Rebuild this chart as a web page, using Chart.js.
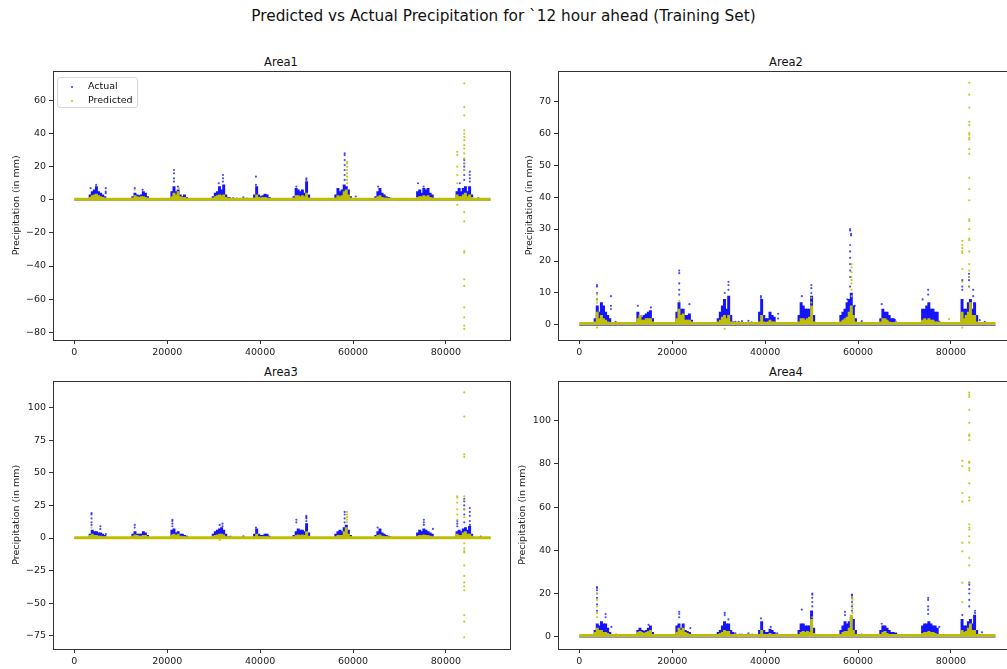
<!DOCTYPE html>
<html>
<head>
<meta charset="utf-8">
<script src="https://cdn.jsdelivr.net/npm/chart.js@4.4.0/dist/chart.umd.min.js"></script>
<style>
  body { margin: 0; background: #fff; width: 1007px; height: 669px; overflow: hidden; position: relative; font-family: "DejaVu Sans", sans-serif; color: #111; }
  .panel { position: absolute; }
  .sup { position: absolute; left: 0; width: 1007px; top: 6px; text-align: center; font-size: 15.3px; line-height: 20px; }
  .sub { position: absolute; width: 200px; text-align: center; font-size: 11.5px; line-height: 14px; }
  .legend { position: absolute; left: 57px; top: 77px; width: 79px; height: 29px; border: 1px solid #d8d8d8; border-radius: 3px; background: rgba(255,255,255,0.8); font-size: 9.5px; }
  .legend div { position: absolute; left: 30px; line-height: 12px; }
  .legend span { position: absolute; width: 2px; height: 2px; border-radius: 1px; left: 13px; }
</style>
</head>
<body>
<div class="sup">Predicted vs Actual Precipitation for `12 hour ahead (Training Set)</div>
<div class="sub" style="left:181px;top:55px">Area1</div>
<div class="sub" style="left:686px;top:55px">Area2</div>
<div class="sub" style="left:181px;top:365px">Area3</div>
<div class="sub" style="left:686px;top:365px">Area4</div>

<div class="panel" style="left:0;top:62px"><canvas id="c1" width="515" height="298"></canvas></div>
<div class="panel" style="left:505px;top:62px"><canvas id="c2" width="515" height="298"></canvas></div>
<div class="panel" style="left:0;top:372px"><canvas id="c3" width="515" height="297"></canvas></div>
<div class="panel" style="left:505px;top:372px"><canvas id="c4" width="515" height="297"></canvas></div>

<div class="legend">
  <span style="top:8px;background:#3030ff"></span><div style="top:2px">Actual</div>
  <span style="top:22px;background:#bfbf00"></span><div style="top:16px">Predicted</div>
</div>

<script>
// tijdstap-bins (x) van de dichte clusters
const binX = [
  3400, 3850, 4300, 4750, 5200, 5650, 6100, 6550,
  12600, 13050, 13500, 13950, 14400, 14850, 15300, 15750,
  21000, 21450, 21900, 22350, 22800, 23250, 23700, 24150,
  29900, 30350, 30800, 31250, 31700, 32150, 32600, 33050,
  38800, 39250, 39700, 40150, 40600, 41050, 41500, 41950,
  47300, 47750, 48200, 48650, 49100, 49550, 50000, 50450,
  56300, 56750, 57200, 57650, 58100, 58550, 59000, 59450,
  64900, 65350, 65800, 66250, 66700, 67150, 67600, 68050,
  73900, 74350, 74800, 75250, 75700, 76150, 76600, 77050,
  82400, 82850, 83300, 83750, 84200, 84650, 85100, 85550
];

const baselineX = [0, 89600];
const xTicks = [0, 20000, 40000, 60000, 80000];
const xRange = [-4600, 93800];

// Area1
const area1ActualTop = [3,5,6,8,5,4,3,2, 2,4,3,2.5,3,5,4,2, 5,8,5,6,3,2,3,1.5, 2,4,5,8,6,9,3,1.5, 3,8,3,2,2.5,3.5,3,1.5,
  2,7,6,5,6,4,11,3, 3,7,5,6,9,8,6,2, 2,5,7,4,3,2,1.5,1, 5,6,4,7,6,7,4,3, 5,7,5,7,8,5,8,3];
const area1PredTop = [1.5,2.5,3,3.5,2.5,2,1.5,1, 1,2.5,2,1.5,2,2,1.5,1, 2,4,3,5,2,1.5,1.5,1, 1,2,2.5,3,2.5,3,1.5,1, 1,3,1.5,1,1.5,1.5,1,0.5,
  1,2.5,2.5,2,2.5,2,4,1, 1,2.5,2,2.5,5,6,3,1, 1,2,2.5,1.5,1,1,0.5,0.5, 1.5,2,2,2.5,2,2.5,1.5,1, 3,2,2,3,4,2,3,1.5];
const area1ActualPeaks = [
  [3500,7],[4700,9],[6750,7,5,4],
  [13000,7],[14700,6],
  [21450,18,16,13,11],[22300,8],
  [31100,10],[32000,15,13,11],
  [33500,1],[34200,1],[35000,0.8],[36400,1.5],[37200,0.8],
  [39100,14,9],
  [47800,8],[49950,13,12],
  [58200,28,27,24,21,18,15,12],[60600,2],
  [65400,8],
  [74000,10],[75200,8],
  [83000,10],[83950,24,22,20,18,15,12],[85150,17,15,13,11],
  [87000,1],[88000,0.5]
];
const area1PredPeaks = [
  [13000,6],[22500,7],
  [58700,23,22,20,18,16,14,12,10],
  [82450,29,27,20,15,10,-3],
  [83950,70.4,56,51,42,40,38,36,33,31,28,25,22,18,-7.5,-13,-31,-32,-48,-52,-65,-71,-76,-78]
];
const area1YTicks = [-80, -60, -40, -20, 0, 20, 40, 60];
const area1YRange = [-84.7, 78];
const area1Baseline = [0, 0];
const area1PredBaseline = [0.3, 0.3];

// Area2
const area2ActualTop = [2,6,4,7,6,4,3,2, 4,3,2.5,3,3.5,4,4.5,2, 4,7,5,5,3,3,3.5,1.5, 2,4,6,8,5,9,3,1, 4,8,3,2,2,4,3,2.5,
  3,7,6,5,5,5,9,3, 3,4,5,7,8,10,6,2, 2,5,4,4,3,2,2,1, 5,5,6,7,5,5,4,4, 8,5,5,7,8,5,7,3];
const area2PredTop = [1,4,2,3,2,1.5,1,0.5, 2,3,1.5,1.5,2,2,2,1, 2,5,3,3.5,1.5,1.5,1.5,1, 1,1.5,2.5,3,2,3,1,0.5, 1,3,1,0.5,1,1.5,1,1,
  1,2,2,1.5,2,2.5,6,1, 1,1.5,2,2.5,4,6,3,1, 1,2,2,1.5,1,0.5,0.5,0.5, 1.5,2,1.5,2,1.5,1.5,1,1, 4,2,3,4,7,3,3,1];
const area2ActualPeaks = [
  [3800,12.5,12,10,8],[6800,9,6,5],[7800,1],
  [12600,6],[15400,5.5],
  [21500,17,16.2,13,11,9.5],[23700,6.5],
  [28500,0.5],[29300,0.5],
  [31300,10],[32100,13.5,12.5,11],
  [33600,1],[34300,1],[35000,1.2],[36400,1.3],[37100,0.8],
  [39100,9,8.5],[42800,3.5,2],
  [47900,9],[49950,12.5,11.5,10],
  [57700,8],[58300,30,29.5,25,23,21,19,17,15,12],[58500,28.5,28],[59300,6],[60800,1.2],
  [65100,6.5],[68000,1.5],
  [73900,8],[75100,11,9.5],[77500,1],
  [82450,14,12,11],[83900,16,15,14,12],[84800,11,9],[86200,1.5],[87300,1]
];
const area2PredPeaks = [
  [3800,9.5,8,7,-0.8],
  [21500,7.5],
  [31300,-1.2],
  [49950,8.5,7],
  [58600,19,18,16.5,15,14,13,11,9],
  [79600,1.8],
  [82450,26.3,25,24,23,22.5,17.5,13.5,-0.8],
  [83950,75.7,72,68,63.5,62.5,60,59.5,58.5,58,55,53.5,46,42.5,39,33,32.5,30,27,26.5,23,19,17,15,12]
];
const area2YTicks = [0, 10, 20, 30, 40, 50, 60, 70];
const area2YRange = [-4.7, 79.5];
const area2Baseline = [0, 0];
const area2PredBaseline = [0.45, 0.45];

// Area3
const area3ActualTop = [3,6,5,5,4,4,3,2, 3,5,3,3,3,5,4,2, 6,7,4,5,3,3,2,1.5, 3,5,6,7,8,6,3,1, 3,7,3,2,2,3,3,1.5,
  2,5,7,6,6,5,11,4, 3,5,6,5,8,10,6,2, 2,5,7,4,3,2,1.5,1, 4,6,5,7,6,5,4,3, 5,6,5,7,8,6,9,3];
const area3PredTop = [2,3,2,2,1.5,1.5,1,1, 1.5,2.5,2,1.5,1.5,2,2,1, 2.5,3,2,3,1.5,1,1,0.5, 1.5,2,2.5,3,3,2.5,1,0.5, 1,3,1,1,1,1,1,0.5,
  1,2,2.5,2,2.5,2,5,1.5, 1,2,2,2,5,8,3,1, 1,2,2.5,1.5,1,1,0.5,0.5, 1.5,2,2,2.5,2,2,1.5,1, 3,2,2,4,5,3,3,1.5];
const area3ActualPeaks = [
  [3700,19,18,15,12,10],[5600,9,7],[6800,3],
  [13000,10,8],
  [21100,14,13,11,9],
  [31300,10],[31900,11,9],
  [33600,1],[36400,1.2],
  [39100,8],
  [47800,14,12],[49950,17,16,15,13],
  [58200,20,18,15,12],
  [65300,8],
  [75250,14,12,10],[77200,7],
  [82450,13,11,9],[83950,30,28,25,22,18,12],[85150,23,20,17,13,10],
  [87500,1]
];
const area3PredPeaks = [
  [3700,8],
  [31300,-1.5],
  [58700,20,18,16,14,12],
  [82450,32,31,27,22,18,14],
  [83950,111.5,93,64,62,32,29,22,16,-4,-8,-10,-11,-21,-29,-34,-37,-40,-59,-64,-76]
];
const area3YTicks = [-75, -50, -25, 0, 25, 50, 75, 100];
const area3YRange = [-85, 120.5];
const area3Baseline = [0, 0];
const area3PredBaseline = [0.3, 0.3];

// Area4
const area4ActualTop = [3,6,5,7,6,6,4,2, 3,4,3,2.5,3,4,5,2, 5,6,4,6,3,2.5,2,1, 2,3,5,7,6,6,3,2, 3,7,3,2,2,3.5,3,2,
  3,6,6,5,5,5,12,4, 3,5,7,6,7,9,8,3, 3,5,5,4,3,2,2,1.5, 5,6,6,7,6,5,5,4, 8,5,5,7,8,6,10,3];
const area4PredTop = [2,4,3,3,2,2,1.5,1, 2,2.5,2,1.5,2,2.5,3,1, 2,4,3,4,2,1.5,1,0.5, 1,1.5,2,3,2.5,2.5,1,0.5, 1,3,1,0.5,1,1.5,1,0.5,
  1,2,2.5,2,2.5,2,8,1.5, 1,2,2.5,2.5,4,10,3,1, 1,2,2.5,1.5,1,0.5,0.5,0.5, 1.5,2,2,2.5,2,2,1.5,1, 3,2,2.5,4,6,3,3,1];
const area4ActualPeaks = [
  [3800,23,22.5,21.5,20,18,15,12],[5650,10.5,9],[6900,4.5],[7900,1],
  [14900,5.5],
  [21500,11.5,10.5,9],[23900,4],
  [31300,11,10],[32100,8],
  [33600,1.5],[34500,1],[35000,1],[36400,1.5],[37200,1],
  [39100,8.5],[41200,4.5],[42600,1.5],
  [47900,12.5],[50150,20,19.5,18,16,14],
  [57200,11.5,10],[58700,19.5,19,18,16,14,12],[60800,1],
  [65100,6],[68200,1.5],
  [75100,18,17,14,12.5,10.5],[77500,4.5],
  [82450,10],[83950,25,24,22,20,17,14],[85200,12,11],[86700,2]
];
const area4PredPeaks = [
  [3800,20,17,14,11,9],
  [50150,9],
  [58800,18,17,15,13,11],
  [82450,81.5,79,66.5,62.5,43.5,39.5,25,16],
  [83950,113,112,111,105,99,93.5,93,91,81,80.5,78,77,71,64.5,63,52,50.5,49.5,46.5,43.5,36.5,33,25]
];
const area4YTicks = [0, 20, 40, 60, 80, 100];
const area4YRange = [-5.7, 118.5];
const area4Baseline = [0, 0];
const area4PredBaseline = [0.6, 0.6];

const BLUE = '#1414ff';
const BLUE_DOT = 'rgba(0,0,255,0.7)';
const YEL = '#bfbf00';
const YEL_DOT = 'rgba(191,191,0,0.85)';

function kolommenNaarPunten(kol) {
  const pts = [];
  kol.forEach(k => {
    for (let i = 1; i < k.length; i++) pts.push({ x: k[0], y: k[i] });
  });
  return pts;
}

function binsNaarStaven(tops) {
  return binX.map((x, i) => ({ x: x, y: tops[i] }));
}

function lijn(ys) {
  return baselineX.map((x, i) => ({ x: x, y: ys[i] }));
}

function fmt(v) {
  return v < 0 ? '\u2212' + Math.abs(v) : String(v);
}

const kaderPlugin = {
  id: 'kader',
  afterDraw(chart) {
    const a = chart.chartArea;
    const ctx = chart.ctx;
    ctx.save();
    ctx.strokeStyle = '#333';
    ctx.lineWidth = 1;
    ctx.strokeRect(Math.round(a.left) + 0.5, Math.round(a.top) + 0.5, Math.round(a.right - a.left), Math.round(a.bottom - a.top));
    ctx.restore();
  }
};

function teken(id, d) {
  const tickFont = { family: 'DejaVu Sans', size: 9.5 };
  new Chart(document.getElementById(id), {
    type: 'bar',
    data: {
      datasets: [
        { type: 'scatter', data: kolommenNaarPunten(d.predPeaks), backgroundColor: YEL_DOT, borderWidth: 0, pointRadius: 1.1, order: 0 },
        { type: 'bar', data: binsNaarStaven(d.predTop), backgroundColor: YEL, borderWidth: 0, barThickness: 2.3, grouped: false, order: 1 },
        { type: 'line', data: lijn(d.predBase), borderColor: YEL, borderWidth: 3, pointRadius: 0, fill: false, order: 2 },
        { type: 'scatter', data: kolommenNaarPunten(d.actPeaks), backgroundColor: BLUE_DOT, borderWidth: 0, pointRadius: 1.1, order: 3 },
        { type: 'bar', data: binsNaarStaven(d.actTop), backgroundColor: BLUE, borderWidth: 0, barThickness: 2.3, grouped: false, order: 4 },
        { type: 'line', data: lijn(d.actBase), borderColor: 'rgba(70,70,230,0.8)', borderWidth: 2, pointRadius: 0, fill: false, order: 5 }
      ]
    },
    options: {
      responsive: false,
      animation: false,
      layout: { padding: { top: 2, right: 5, left: 0, bottom: 0 } },
      plugins: { legend: { display: false }, tooltip: { enabled: false } },
      scales: {
        x: {
          type: 'linear',
          min: xRange[0],
          max: xRange[1],
          offset: false,
          afterBuildTicks: s => { s.ticks = xTicks.map(v => ({ value: v })); },
          afterFit: s => { s.height = 20; },
          grid: { drawOnChartArea: false, drawTicks: true, tickLength: 4, tickColor: '#333', offset: false },
          border: { display: false },
          ticks: { font: tickFont, color: '#222', padding: 3, maxRotation: 0, callback: v => fmt(v) }
        },
        y: {
          type: 'linear',
          min: d.yRange[0],
          max: d.yRange[1],
          afterBuildTicks: s => { s.ticks = d.yTicks.map(v => ({ value: v })); },
          afterFit: s => { s.width = 53; },
          grid: { drawOnChartArea: false, drawTicks: true, tickLength: 4, tickColor: '#333' },
          border: { display: false },
          ticks: { font: tickFont, color: '#222', padding: 3, callback: v => fmt(v) },
          title: { display: true, text: 'Precipitation (in mm)', font: { family: 'DejaVu Sans', size: 9.5 }, color: '#222', padding: { top: d.labelPad, bottom: 0 } }
        }
      }
    },
    plugins: [kaderPlugin]
  });
}

teken('c1', { actTop: area1ActualTop, predTop: area1PredTop, actPeaks: area1ActualPeaks, predPeaks: area1PredPeaks,
  yTicks: area1YTicks, yRange: area1YRange, actBase: area1Baseline, predBase: area1PredBaseline, labelPad: 11 });
teken('c2', { actTop: area2ActualTop, predTop: area2PredTop, actPeaks: area2ActualPeaks, predPeaks: area2PredPeaks,
  yTicks: area2YTicks, yRange: area2YRange, actBase: area2Baseline, predBase: area2PredBaseline, labelPad: 19 });
teken('c3', { actTop: area3ActualTop, predTop: area3PredTop, actPeaks: area3ActualPeaks, predPeaks: area3PredPeaks,
  yTicks: area3YTicks, yRange: area3YRange, actBase: area3Baseline, predBase: area3PredBaseline, labelPad: 11 });
teken('c4', { actTop: area4ActualTop, predTop: area4PredTop, actPeaks: area4ActualPeaks, predPeaks: area4PredPeaks,
  yTicks: area4YTicks, yRange: area4YRange, actBase: area4Baseline, predBase: area4PredBaseline, labelPad: 12 });
</script>
</body>
</html>
